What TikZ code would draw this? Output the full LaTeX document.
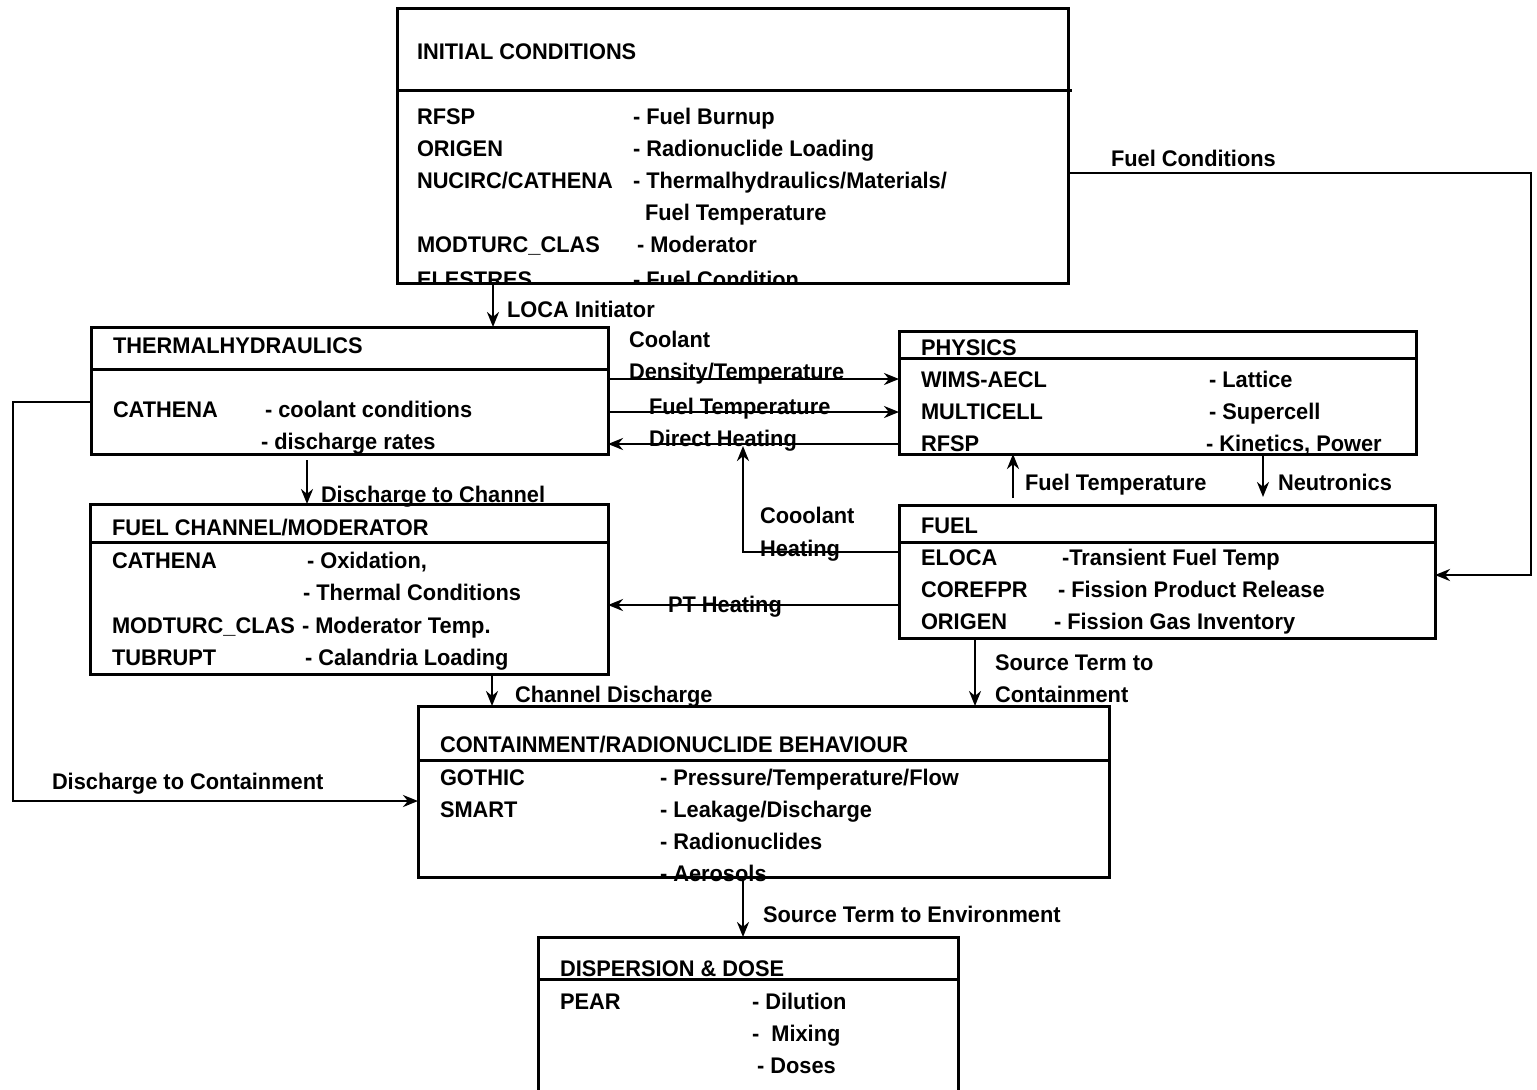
\documentclass[tikz,border=0pt]{standalone}
\usepackage{fontspec}
\newfontfamily\diagfont{Liberation Sans}[FakeStretch=0.965]
\usetikzlibrary{arrows.meta,fit}

\begin{document}
\begin{tikzpicture}[x=0.5pt, y=-0.5pt, font=\diagfont\bfseries\fontsize{11.3}{13}\selectfont]
  \tikzset{
      block/.style={rectangle, draw=black, line width=1.5pt, inner sep=0pt, outer sep=0pt},
      txt/.style={anchor=base west, inner sep=0pt, outer sep=0pt},
      rule/.style={draw, line width=1.5pt},
      flow/.style={draw, line width=1.3pt, -{Stealth[length=7.5pt, width=6pt]}},
  }
  \clip (0,0) rectangle (1537,1089);

  % boxes
  \node[block, fit={(397,8) (1068,283)}]   (init)  {};
  \node[block, fit={(91,327) (608,454)}]   (therm) {};
  \node[block, fit={(899,331) (1416,454)}] (phys)  {};
  \node[block, fit={(899,505) (1435,638)}] (fuel)  {};
  \node[block, fit={(90,504) (608,674)}]   (chan)  {};
  \node[block, fit={(418,706) (1109,877)}] (cont)  {};
  \node[block, fit={(538,937) (958,1100)}] (disp)  {};
  \draw[rule] (init.west |- 0,90) -- (1072,90);
  \draw[rule] (therm.west |- 0,369) -- (therm.east |- 0,369);
  \draw[rule] (phys.west |- 0,358) -- (phys.east |- 0,358);
  \draw[rule] (fuel.west |- 0,542) -- (fuel.east |- 0,542);
  \draw[rule] (chan.west |- 0,542) -- (chan.east |- 0,542);
  \draw[rule] (cont.west |- 0,760) -- (cont.east |- 0,760);
  \draw[rule] (disp.west |- 0,979) -- (disp.east |- 0,979);

  % initial conditions
  \node[txt] (initT) at (417,59) {INITIAL CONDITIONS};
  \node[txt] (initA) at (417,124) {RFSP};
  \node[txt] (initB) at (417,156) {ORIGEN};
  \node[txt] (initC) at (417,188) {NUCIRC/CATHENA};
  \node[txt] (initD) at (417,252) {MODTURC\_CLAS};
  \node[txt] (inita) at (633,124) {- Fuel Burnup};
  \node[txt] (initb) at (633,156) {- Radionuclide Loading};
  \node[txt] (initc) at (633,188) {- Thermalhydraulics/Materials/};
  \node[txt] (initd) at (645,220) {Fuel Temperature};
  \node[txt] (inite) at (637,252) {- Moderator};
  \begin{scope}
    \clip (init.north west) rectangle (init.south east);
    \node[txt] (initE) at (417,287) {ELESTRES};
    \node[txt] (initf) at (633,287) {- Fuel Condition};
  \end{scope}

  % thermalhydraulics
  \node[txt] (thermT) at (113,353) {THERMALHYDRAULICS};
  \node[txt] (thermA) at (113,417) {CATHENA};
  \node[txt] (therma) at (265,417) {- coolant conditions};
  \node[txt] (thermb) at (261,449) {- discharge rates};

  % physics
  \node[txt] (physT) at (921,355) {PHYSICS};
  \node[txt] (physA) at (921,387) {WIMS-AECL};
  \node[txt] (physB) at (921,419) {MULTICELL};
  \node[txt] (physC) at (921,451) {RFSP};
  \node[txt] (physa) at (1209,387) {- Lattice};
  \node[txt] (physb) at (1209,419) {- Supercell};
  \node[txt] (physc) at (1206,451) {- Kinetics, Power};

  % fuel
  \node[txt] (fuelT) at (921,533) {FUEL};
  \node[txt] (fuelA) at (921,565) {ELOCA};
  \node[txt] (fuelB) at (921,597) {COREFPR};
  \node[txt] (fuelC) at (921,629) {ORIGEN};
  \node[txt] (fuela) at (1062,565) {-Transient Fuel Temp};
  \node[txt] (fuelb) at (1058,597) {- Fission Product Release};
  \node[txt] (fuelc) at (1054,629) {- Fission Gas Inventory};

  % fuel channel
  \node[txt] (chanT) at (112,535) {FUEL CHANNEL/MODERATOR};
  \node[txt] (chanA) at (112,568) {CATHENA};
  \node[txt] (chanB) at (112,633) {MODTURC\_CLAS};
  \node[txt] (chanC) at (112,665) {TUBRUPT};
  \node[txt] (chana) at (307,568) {- Oxidation,};
  \node[txt] (chanb) at (303,600) {- Thermal Conditions};
  \node[txt] (chanc) at (302,633) {- Moderator Temp.};
  \node[txt] (chand) at (305,665) {- Calandria Loading};

  % containment
  \node[txt] (contT) at (440,752) {CONTAINMENT/RADIONUCLIDE BEHAVIOUR};
  \node[txt] (contA) at (440,785) {GOTHIC};
  \node[txt] (contB) at (440,817) {SMART};
  \node[txt] (conta) at (660,785) {- Pressure/Temperature/Flow};
  \node[txt] (contb) at (660,817) {- Leakage/Discharge};
  \node[txt] (contc) at (660,849) {- Radionuclides};
  \node[txt] (contd) at (660,881) {- Aerosols};

  % dispersion
  \node[txt] (dispT) at (560,976) {DISPERSION \& DOSE};
  \node[txt] (dispA) at (560,1009) {PEAR};
  \node[txt] (dispa) at (752,1009) {- Dilution};
  \node[txt] (dispb) at (752,1041) {-\ \ Mixing};
  \node[txt] (dispc) at (757,1073) {- Doses};

  % connectors
  \coordinate (cHeat)  at (743,446);
  \coordinate (fTbase) at (1013,498);
  \coordinate (nTip)   at (1263,497);
  \coordinate (dcTop)  at (307,460);
  \draw[flow] (init.south -| 493,0) -- (therm.north -| 493,0);
  \draw[flow] (therm.east |- 0,379) -- (phys.west |- 0,379);
  \draw[flow] (therm.east |- 0,412) -- (phys.west |- 0,412);
  \draw[flow] (phys.west |- 0,444) -- (therm.east |- 0,444);
  \draw[flow] (fuel.west |- 0,552) -| (cHeat);
  \draw[flow] (fuel.west |- 0,605) -- (chan.east |- 0,605);
  \draw[flow] (fTbase) -- (phys.south -| fTbase);
  \draw[flow] (phys.south -| nTip) -- (nTip);
  \draw[flow] (init.east |- 0,173) -- (1531,173) |- (fuel.east |- 0,575);
  \draw[flow] (dcTop) -- (chan.north -| dcTop);
  \draw[flow] (chan.south -| 492,0) -- (cont.north -| 492,0);
  \draw[flow] (fuel.south -| 975,0) -- (cont.north -| 975,0);
  \draw[flow] (therm.west |- 0,402) -- (13,402) |- (cont.west |- 0,801);
  \draw[flow] (cont.south -| 743,0) -- (disp.north -| 743,0);

  % connector labels
  \node[txt] (lLoca)   at (507,317) {LOCA Initiator};
  \node[txt] (lCoolA)  at (629,347) {Coolant};
  \node[txt] (lCoolB)  at (629,379) {Density/Temperature};
  \node[txt] (lFuelT)  at (649,414) {Fuel Temperature};
  \node[txt] (lDirect) at (649,446) {Direct Heating};
  \node[txt] (lHeatA)  at (760,523) {Cooolant};
  \node[txt] (lHeatB)  at (760,556) {Heating};
  \node[txt] (lPT)     at (668,612) {PT Heating};
  \node[txt] (lFuelT2) at (1025,490) {Fuel Temperature};
  \node[txt] (lNeut)   at (1278,490) {Neutronics};
  \node[txt] (lFuelC)  at (1111,166) {Fuel Conditions};
  \node[txt] (lDisCh)  at (321,502) {Discharge to Channel};
  \node[txt] (lChDis)  at (515,702) {Channel Discharge};
  \node[txt] (lSrcA)   at (995,670) {Source Term to};
  \node[txt] (lSrcB)   at (995,702) {Containment};
  \node[txt] (lDisCo)  at (52,789) {Discharge to Containment};
  \node[txt] (lEnv)    at (763,922) {Source Term to Environment};
\end{tikzpicture}
\end{document}
